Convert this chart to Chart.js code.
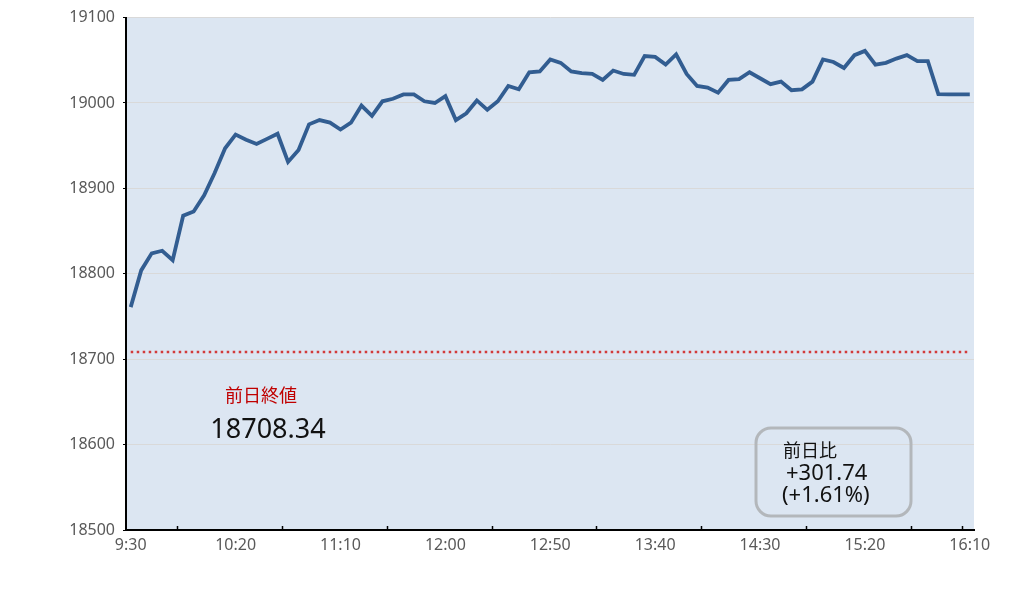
<!DOCTYPE html>
<html lang="ja">
<head>
  <meta charset="UTF-8">
  <title>Intraday chart</title>
  <script src="https://cdn.jsdelivr.net/npm/chart.js"></script>
  <style>
    body {
      margin: 0;
      padding: 0;
      background: #ffffff;
    }
    .chart-wrapper {
      width: 1035px;
      height: 598px;
    }
  </style>
</head>
<body>
  <div class="chart-wrapper">
    <canvas id="indexChart"></canvas>
  </div>
  <script>
    // 5-minute bars, 9:30 - 16:10
    const times = [
      '9:30', '9:35', '9:40', '9:45', '9:50', '9:55', '10:00', '10:05', '10:10', '10:15',
      '10:20', '10:25', '10:30', '10:35', '10:40', '10:45', '10:50', '10:55', '11:00', '11:05',
      '11:10', '11:15', '11:20', '11:25', '11:30', '11:35', '11:40', '11:45', '11:50', '11:55',
      '12:00', '12:05', '12:10', '12:15', '12:20', '12:25', '12:30', '12:35', '12:40', '12:45',
      '12:50', '12:55', '13:00', '13:05', '13:10', '13:15', '13:20', '13:25', '13:30', '13:35',
      '13:40', '13:45', '13:50', '13:55', '14:00', '14:05', '14:10', '14:15', '14:20', '14:25',
      '14:30', '14:35', '14:40', '14:45', '14:50', '14:55', '15:00', '15:05', '15:10', '15:15',
      '15:20', '15:25', '15:30', '15:35', '15:40', '15:45', '15:50', '15:55', '16:00', '16:05',
      '16:10'
    ];
    const values = [
      18761, 18804, 18824, 18827, 18816, 18868, 18873, 18892, 18918, 18947,
      18963, 18957, 18952, 18958, 18964, 18931, 18945, 18975, 18980, 18977,
      18969, 18977, 18997, 18985, 19002, 19005, 19010, 19010, 19002, 19000,
      19008, 18980, 18988, 19003, 18992, 19002, 19020, 19016, 19036, 19037,
      19051, 19047, 19037, 19035, 19034, 19027, 19038, 19034, 19033, 19055,
      19054, 19045, 19057, 19034, 19020, 19018, 19012, 19027, 19028, 19036,
      19029, 19022, 19025, 19015, 19016, 19025, 19051, 19048, 19041, 19056,
      19061, 19045, 19047, 19052, 19056, 19049, 19049, 19010.5, 19010, 19010,
      19010.08
    ];
    const labelEvery = 10;            // a time label every 50 minutes
    const minorTicks = [4.4, 14.4, 24.4, 34.4, 44.4, 54.4, 64.4, 74.4, 79.3];
    const prevClose = 18708.34;
    const change = '+301.74';
    const changePct = '(+1.61%)';

    const FONT = "'Noto Sans', 'Noto Sans CJK JP', sans-serif";
    const JP_FONT = "'Noto Sans CJK JP', 'Noto Sans', sans-serif";

    const plotBackground = {
      id: 'plotBackground',
      beforeDraw(chart) {
        const { ctx, chartArea: a } = chart;
        ctx.save();
        ctx.fillStyle = '#dce6f2';
        ctx.fillRect(a.left, a.top, a.right - a.left, a.bottom - a.top);
        ctx.restore();
      }
    };

    // small inward tick marks on the time axis + annotation texts
    const extras = {
      id: 'extras',
      afterDraw(chart) {
        const { ctx } = chart;
        const x = chart.scales.x;
        const bottom = chart.chartArea.bottom;
        ctx.save();
        ctx.strokeStyle = '#000';
        ctx.lineWidth = 1.5;
        minorTicks.forEach(v => {
          const px = Math.round(x.getPixelForValue(v)) + 0.5;
          ctx.beginPath();
          ctx.moveTo(px, bottom);
          ctx.lineTo(px, bottom - 4);
          ctx.stroke();
        });

        ctx.textBaseline = 'middle';
        ctx.textAlign = 'center';
        ctx.fillStyle = '#c00000';
        ctx.font = '18px ' + JP_FONT;
        ctx.fillText('前日終値', 261, 395);
        ctx.fillStyle = '#111';
        ctx.font = '27px ' + FONT;
        ctx.fillText(prevClose.toFixed(2), 268, 430);

        // change box
        ctx.strokeStyle = '#b3b7bb';
        ctx.lineWidth = 3;
        ctx.beginPath();
        ctx.roundRect(756, 428, 155, 88, 15);
        ctx.stroke();

        ctx.textAlign = 'left';
        ctx.fillStyle = '#111';
        ctx.font = '18px ' + JP_FONT;
        ctx.fillText('前日比', 783, 450);
        ctx.font = '22px ' + FONT;
        ctx.fillText(change, 786, 474);
        ctx.fillText(changePct, 782, 496);
        ctx.restore();
      }
    };

    new Chart(document.getElementById('indexChart'), {
      type: 'line',
      data: {
        datasets: [
          {
            label: 'index',
            data: values.map((v, i) => ({ x: i, y: v })),
            borderColor: '#325d91',
            borderWidth: 3.8,
            pointRadius: 0,
            tension: 0,
            order: 1
          },
          {
            label: 'prev close',
            data: [{ x: 0, y: prevClose }, { x: times.length - 1, y: prevClose }],
            borderColor: '#d23b3b',
            borderWidth: 2.5,
            borderDash: [2.5, 3.5],
            pointRadius: 0,
            order: 2
          }
        ]
      },
      options: {
        responsive: true,
        maintainAspectRatio: false,
        animation: false,
        layout: { padding: { top: 16, right: 61, left: 0, bottom: 0 } },
        plugins: {
          legend: { display: false },
          tooltip: { enabled: false }
        },
        scales: {
          x: {
            type: 'linear',
            min: -0.45,
            max: 80.4,
            afterBuildTicks: scale => {
              scale.ticks = times
                .map((t, i) => i)
                .filter(i => i % labelEvery === 0)
                .map(i => ({ value: i }));
            },
            afterFit: scale => { scale.height = 68; },
            grid: { display: false, drawTicks: false },
            border: { color: '#000', width: 2 },
            ticks: {
              autoSkip: false,
              maxRotation: 0,
              padding: 6,
              color: '#595959',
              font: { family: FONT, size: 16 },
              callback: v => times[v]
            }
          },
          y: {
            min: 18500,
            max: 19100,
            afterFit: scale => { scale.width = 126; },
            grid: { color: '#d9d9d9', lineWidth: 1, drawTicks: true, tickLength: 3, tickColor: '#000' },
            border: { color: '#000', width: 2 },
            ticks: {
              stepSize: 100,
              padding: 8,
              color: '#595959',
              font: { family: FONT, size: 16 },
              callback: v => String(v)
            }
          }
        }
      },
      plugins: [plotBackground, extras]
    });
  </script>
</body>
</html>
